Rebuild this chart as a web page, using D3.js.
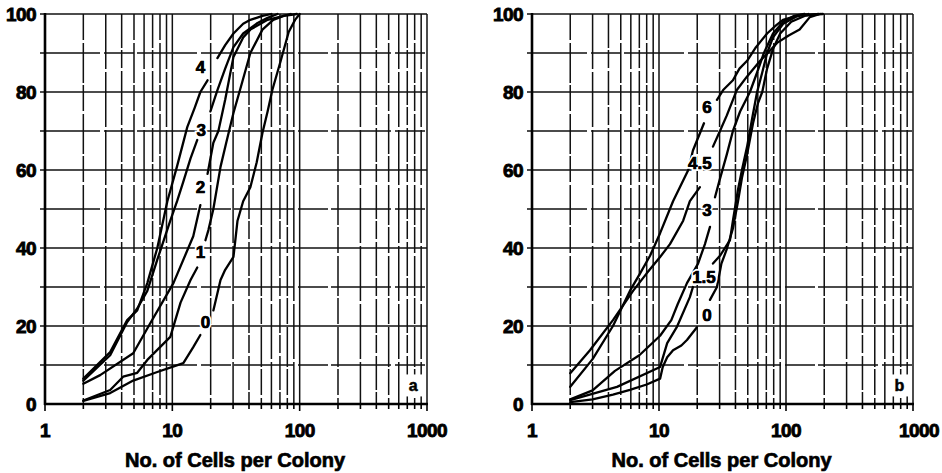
<!DOCTYPE html>
<html>
<head>
<meta charset="utf-8">
<script src="https://cdn.jsdelivr.net/npm/d3@7/dist/d3.min.js"></script>
<style>
  body { margin: 0; background: #fff; }
  svg { display: block; }
  text { font-family: "Liberation Sans", Arial, Helvetica, sans-serif; font-weight: bold; fill: #000; }
</style>
</head>
<body>
<svg id="chart" width="942" height="473"></svg>
<script>
// ---- axis values ----
const xTickLabels = [1, 10, 100, 1000];
const yTickLabels = [0, 20, 40, 60, 80, 100];
const yGridValues = [10, 20, 30, 40, 50, 60, 70, 80, 90, 100];
const axisTitle = "No. of Cells per Colony";

// ---- panel a: cumulative % of colonies vs. cells per colony ----
const seriesA = ["0", "1", "2", "3", "4"];
const curveA0 = [[2,0.8],[3.25,2.8],[4.93,6],[7.62,8.2],[10,9.5],[12.2,10.5],[14.6,14.6],[16.6,17.7],[21,24],[23.9,31.8],[26,34.4],[30.2,37.7],[32.5,47],[36,52],[41,55.6],[46,62],[51,69.5],[56,75],[61,80.5],[71,88],[82,95.4],[92,98.5],[100,100]];
const curveA1 = [[2,0.9],[3.25,3.6],[4.11,7],[5.3,8],[6.36,11.3],[9.64,17.2],[11.6,26],[13.9,31.8],[15.7,35],[18.2,42],[19.2,44.6],[21,50],[23.9,60.8],[26.5,67],[30.2,74.6],[35,82],[41,90],[51,96],[62,98.5],[75,99.5],[95,100]];
const curveA2 = [[2,5.2],[2.71,7.4],[4.93,13],[6.71,20.7],[10.2,31],[14.6,43],[16.6,51],[18.9,59],[21,67],[23,70],[26,78],[30.2,89],[36,94],[41,96],[56,98.5],[85,100]];
const curveA3 = [[2,6],[3.25,12.5],[4.42,21],[5.3,24.5],[6.36,29],[7.62,37],[9.64,47],[10.9,52],[12.2,57],[13.9,63],[15.7,67.7],[19.9,75],[22.6,80.5],[26,86],[30.2,91.5],[36,95],[46.7,97.7],[56,99],[67,100]];
const curveA4 = [[2,6.5],[3.25,13.3],[4.42,21.5],[5.3,24],[6.36,31],[7.62,40],[9.14,52],[10.9,61],[13.1,71],[15,76],[16.6,80],[18.9,83],[22.6,88.7],[26,92],[30.2,95],[36,97.5],[41,98.5],[51,99.5],[60,100]];
const labelPosA = [[18.2,21],[16.6,39],[16.6,55.6],[16.9,70.3],[16.6,86.4]];
const breakA = [[17.7,24],[35,42],[51,59],[67.7,75],[83,88.7]];

// ---- panel b ----
const seriesB = ["0", "1.5", "3", "4.5", "6"];
const curveB0 = [[2,0.5],[3,1.2],[4.34,2.4],[5.9,3.6],[8,5],[10.2,6.5],[10.7,9.5],[11.6,12],[12.9,13.8],[15,15],[16.6,16.4],[19.9,19.7],[25.2,26.7],[28.6,30],[31,36],[34,39.5],[38.2,45],[41.9,52],[45,58],[49.4,64],[55,72],[60,77],[65,80],[71,86],[79,91],[90,95],[110,98],[140,99.5],[180,100]];
const curveB15 = [[2,1],[4.67,4.4],[10.2,9.5],[11.6,15.6],[13.8,19.7],[17.5,27.4],[18.5,30],[26.6,36],[30.2,38],[36.2,42],[38.2,47],[41.9,55],[45,60],[49.4,66],[54,73],[59.2,80],[65,85],[71,90],[79,94],[95,97.5],[120,99.3],[150,100]];
const curveB3 = [[2,1.2],[3,3.5],[4.5,8.5],[7,12.5],[10.2,17.5],[12.5,21.5],[14,25.5],[16.6,31],[20.3,36],[23,41],[25.2,45.4],[27.6,53],[30,57.4],[34.2,64],[38.2,70],[43.5,75],[52,80],[59.2,85],[67,90],[79,95],[95,98],[115,99.5],[140,100]];
const curveB45 = [[2,7.9],[2.86,13.8],[4.34,21.5],[6.25,29],[8,33.5],[10.2,37.7],[12.2,41],[15.5,47],[17.5,52],[21,55.6],[26.6,66],[30.2,70],[34.2,74],[38.2,78],[41,80.5],[49.4,84],[62.6,88],[72,90],[85,92.6],[105,94.5],[128,96],[154,99.2],[185,100]];
const curveB6 = [[2,4.4],[3,11.5],[4.34,20],[5.9,29],[7.1,33.5],[8.5,38],[10.2,43.8],[12.9,52],[14.6,55.6],[17,60],[18.5,65],[22.6,72],[28.6,78],[32,80.5],[38.2,83],[43,86],[49.4,88],[58,91.5],[71,95],[83,97],[94.6,98.5],[128,99.7],[195,100]];
const labelPosB = [[23.9,22.8],[22.6,32.6],[23.9,49.7],[21,61.8],[23.9,76.2]];
const breakB = [[19.7,26.7],[30,36],[45.4,53],[55.6,66],[72,78]];

const panels = [
  { letter: "a", names: seriesA, curves: [curveA0, curveA1, curveA2, curveA3, curveA4], labels: labelPosA, breaks: breakA, x0: 45, x1: 427 },
  { letter: "b", names: seriesB, curves: [curveB0, curveB15, curveB3, curveB45, curveB6], labels: labelPosB, breaks: breakB, x0: 532, x1: 913 }
];

const svg = d3.select("#chart");
const plotTop = 14, plotBottom = 404;

// minor decade positions 1..9 x 10^k, plus the closing 1000
const decadeLines = [];
[1, 10, 100].forEach(p => { for (let m = 1; m <= 9; m++) decadeLines.push(m * p); });
decadeLines.push(1000);

panels.forEach(p => {
  const x = d3.scaleLog().domain([1, 1000]).range([p.x0, p.x1]);
  const y = d3.scaleLinear().domain([0, 100]).range([plotBottom, plotTop]);
  const g = svg.append("g");

  // vertical log grid
  g.append("g").selectAll("line").data(decadeLines.slice(1)).join("line")
    .attr("x1", d => x(d)).attr("x2", d => x(d))
    .attr("y1", y(100)).attr("y2", y(0))
    .attr("stroke", "#111").attr("stroke-width", 1.5)
    .attr("stroke-dasharray", (d, i) => (xTickLabels.includes(d) ? null : (i % 3 === 0 ? "26,3,40,2" : (i % 3 === 1 ? "55,3" : "34,2,18,3"))));

  // horizontal grid
  g.append("g").selectAll("line").data(yGridValues).join("line")
    .attr("x1", x(1) - 5).attr("x2", x(1000))
    .attr("y1", d => y(d)).attr("y2", d => y(d))
    .attr("stroke", "#111").attr("stroke-width", 1.6)
    .attr("stroke-dasharray", d => (d % 20 === 0 || d === 100) ? null : "60,4,30,3");

  // x ticks below the axis
  g.append("g").selectAll("line").data(decadeLines).join("line")
    .attr("x1", d => x(d)).attr("x2", d => x(d))
    .attr("y1", y(0)).attr("y2", d => y(0) + (xTickLabels.includes(d) ? 7 : 5))
    .attr("stroke", "#000").attr("stroke-width", 1.6);

  // axes
  g.append("line").attr("x1", x(1)).attr("x2", x(1)).attr("y1", y(100) - 1).attr("y2", y(0) + 1)
    .attr("stroke", "#000").attr("stroke-width", 2.6);
  g.append("line").attr("x1", x(1) - 1).attr("x2", x(1000) + 1).attr("y1", y(0)).attr("y2", y(0))
    .attr("stroke", "#000").attr("stroke-width", 2.6);

  // tick labels
  g.append("g").selectAll("text").data(yTickLabels).join("text")
    .attr("x", x(1) - 9).attr("y", d => y(d) + 6.5)
    .attr("text-anchor", "end").attr("font-size", 19)
    .attr("stroke", "#000").attr("stroke-width", 0.9)
    .style("letter-spacing", "-0.6px")
    .text(d => d);
  g.append("g").selectAll("text").data(xTickLabels).join("text")
    .attr("x", d => x(d) + (d === 1000 && p.letter === "b" ? 6 : 0)).attr("y", 437)
    .attr("text-anchor", "middle").attr("font-size", 19)
    .attr("stroke", "#000").attr("stroke-width", 0.9)
    .style("letter-spacing", "-0.6px")
    .text(d => d);

  g.append("text").attr("x", (p.x0 + p.x1) / 2 - 1).attr("y", 467)
    .attr("text-anchor", "middle").attr("font-size", 20)
    .attr("stroke", "#000").attr("stroke-width", 0.7)
    .text(axisTitle);

  // panel letter on a white patch
  const lx = x(780), ly = y(4.5);
  g.append("rect").attr("x", lx - 10).attr("y", ly - 12).attr("width", 20).attr("height", 22).attr("fill", "#fff");
  g.append("text").attr("x", lx).attr("y", ly + 5).attr("text-anchor", "middle")
    .attr("font-size", 16).attr("stroke", "#000").attr("stroke-width", 0.5).text(p.letter);

  // curves, broken where each label sits
  const line = d3.line().x(d => x(d[0])).y(d => y(d[1]));
  p.curves.forEach((c, i) => {
    const [lo, hi] = p.breaks[i];
    const parts = [c.filter(d => d[1] <= lo), c.filter(d => d[1] >= hi)];
    parts.forEach(part => {
      g.append("path").attr("d", line(part))
        .attr("fill", "none").attr("stroke", "#000").attr("stroke-width", 2.3)
        .attr("stroke-linejoin", "round").attr("stroke-linecap", "round");
    });
  });

  // curve labels, with a white halo that cuts the grid behind them
  g.append("g").selectAll("text").data(p.names).join("text")
    .attr("x", (d, i) => x(p.labels[i][0])).attr("y", (d, i) => y(p.labels[i][1]) + 6)
    .attr("text-anchor", "middle").attr("font-size", 17)
    .attr("stroke", "#fff").attr("stroke-width", 4).attr("paint-order", "stroke")
    .text(d => d);
  g.append("g").selectAll("text").data(p.names).join("text")
    .attr("x", (d, i) => x(p.labels[i][0])).attr("y", (d, i) => y(p.labels[i][1]) + 6)
    .attr("text-anchor", "middle").attr("font-size", 17)
    .attr("stroke", "#000").attr("stroke-width", 0.6)
    .text(d => d);
});
</script>
</body>
</html>
